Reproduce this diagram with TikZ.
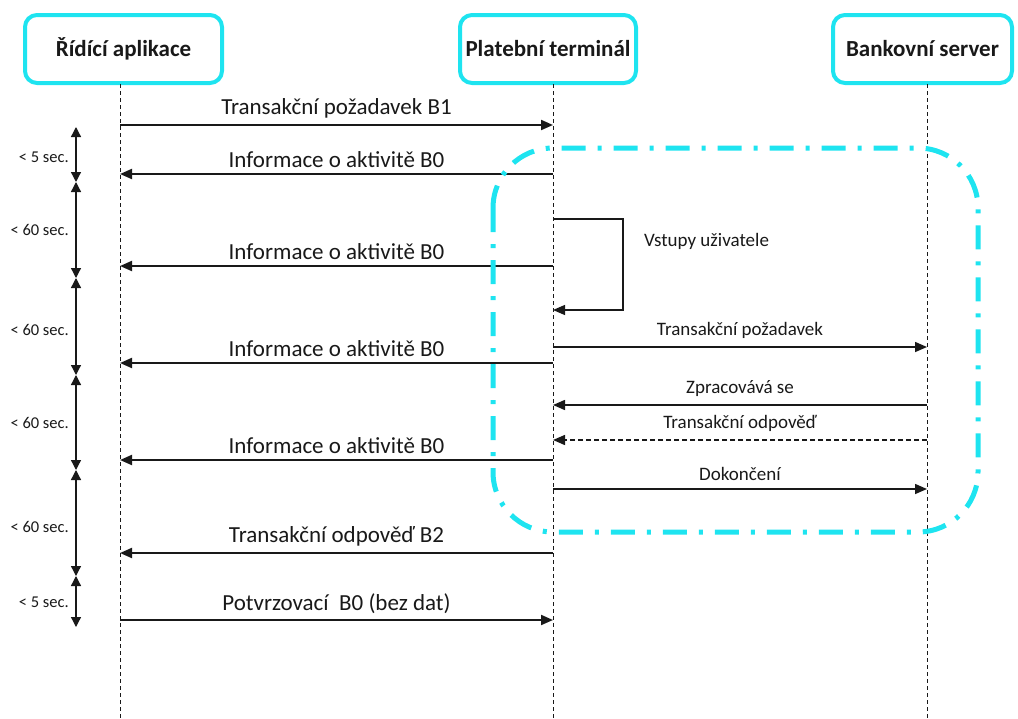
\documentclass[tikz,border=0pt]{standalone}
\usepackage{fontspec}
\setmainfont{Carlito}
\usetikzlibrary{arrows.meta}
\definecolor{boxcyan}{RGB}{30,228,240}
\definecolor{ink}{RGB}{25,25,25}
\begin{document}
\begin{tikzpicture}[x=1pt,y=-1pt,
  actor/.style={draw=boxcyan, line width=4pt, rounded corners=12pt, fill=white,
    minimum height=68pt, font=\fontsize{23}{25}\selectfont\bfseries, text=ink},
  lifeline/.style={draw=ink, line width=0.9pt, dash pattern=on 4pt off 3pt},
  msg/.style={draw=ink, line width=2pt, -{Triangle[length=12pt,width=10pt]}},
  smallmsg/.style={draw=ink, line width=1.5pt, -{Triangle[length=12pt,width=10pt]}},
  bigtxt/.style={font=\fontsize{23}{25}\selectfont, text=ink, above=2pt},
  smalltxt/.style={font=\fontsize{19}{21}\selectfont, text=ink, above=4pt},
  timing/.style={draw=ink, line width=1.3pt, {Triangle[length=10pt,width=10pt]}-{Triangle[length=10pt,width=10pt]}},
  timetxt/.style={font=\fontsize{16.5}{18}\selectfont, text=ink, anchor=east, inner sep=0pt},
]
\useasboundingbox (0,0) rectangle (1018,718);

% participants
\node[actor, minimum width=197pt] (app) at (123.5,49) {Řídící aplikace};
\node[actor, minimum width=176pt] (term) at (548,49) {Platební terminál};
\node[actor, minimum width=179pt] (bank) at (922.5,49) {Bankovní server};

% lifelines
\coordinate (A) at (120,84);
\coordinate (T) at (553,84);
\coordinate (S) at (927,84);
\coordinate (Aend) at (120,718);
\coordinate (Tend) at (553,718);
\coordinate (Send) at (927,718);
\draw[lifeline] (A) -- (Aend);
\draw[lifeline] (T) -- (Tend);
\draw[lifeline] (S) -- (Send);

% messages between the application and the terminal
\draw[msg] (A |- 0,125) -- node[bigtxt] {Transakční požadavek B1} (T |- 0,125);
\draw[msg] (T |- 0,174) -- node[bigtxt] {Informace o aktivitě B0} (A |- 0,174);
\draw[msg] (T |- 0,266) -- node[bigtxt] {Informace o aktivitě B0} (A |- 0,266);
\draw[msg] (T |- 0,363) -- node[bigtxt] {Informace o aktivitě B0} (A |- 0,363);
\draw[msg] (T |- 0,460) -- node[bigtxt] {Informace o aktivitě B0} (A |- 0,460);
\draw[msg] (T |- 0,553) -- node[bigtxt] {Transakční odpověď B2} (A |- 0,553);
\draw[msg] (A |- 0,620) -- node[bigtxt] {Potvrzovací\ \ B0 (bez dat)} (T |- 0,620);

% user input loop on the terminal
\coordinate (loopA) at (623,219);
\coordinate (loopB) at (623,310);
\draw[draw=ink, line width=1.3pt, -{Triangle[length=12pt,width=10pt]}]
  (T |- loopA) -- (loopA) -- (loopB) -- (T |- loopB);
\node[font=\fontsize{19}{21}\selectfont, text=ink, anchor=west, inner sep=0pt] (inp) at (644,241) {Vstupy uživatele};

% messages between the terminal and the bank
\draw[smallmsg] (T |- 0,347) -- node[smalltxt] {Transakční požadavek} (S |- 0,347);
\draw[smallmsg] (S |- 0,405) -- node[smalltxt] {Zpracovává se} (T |- 0,405);
\draw[smallmsg, dash pattern=on 5pt off 3pt] (S |- 0,440) -- node[smalltxt] {Transakční odpověď} (T |- 0,440);
\draw[smallmsg] (T |- 0,489) -- node[smalltxt] {Dokončení} (S |- 0,489);

% timing constraints
\coordinate (t0) at (76,127);
\coordinate (t1) at (76,182);
\coordinate (t2) at (76,278);
\coordinate (t3) at (76,375);
\coordinate (t4) at (76,470);
\coordinate (t5) at (76,576);
\coordinate (t6) at (76,627);
\draw[timing] (t0) -- (t1);
\draw[timing] (t1) -- (t2);
\draw[timing] (t2) -- (t3);
\draw[timing] (t3) -- (t4);
\draw[timing] (t4) -- (t5);
\draw[timing] (t5) -- (t6);
\node[timetxt] (l1) at (69,157) {< 5 sec.};
\node[timetxt] (l2) at (69,230) {< 60 sec.};
\node[timetxt] (l3) at (69,330) {< 60 sec.};
\node[timetxt] (l4) at (69,423) {< 60 sec.};
\node[timetxt] (l5) at (69,527) {< 60 sec.};
\node[timetxt] (l6) at (69,602) {< 5 sec.};

% terminal-bank exchange region
\draw[boxcyan, line width=5pt, dash pattern=on 24pt off 12pt on 4pt off 12pt, rounded corners=60pt]
  (493,148) rectangle (978,532);
\end{tikzpicture}
\end{document}
